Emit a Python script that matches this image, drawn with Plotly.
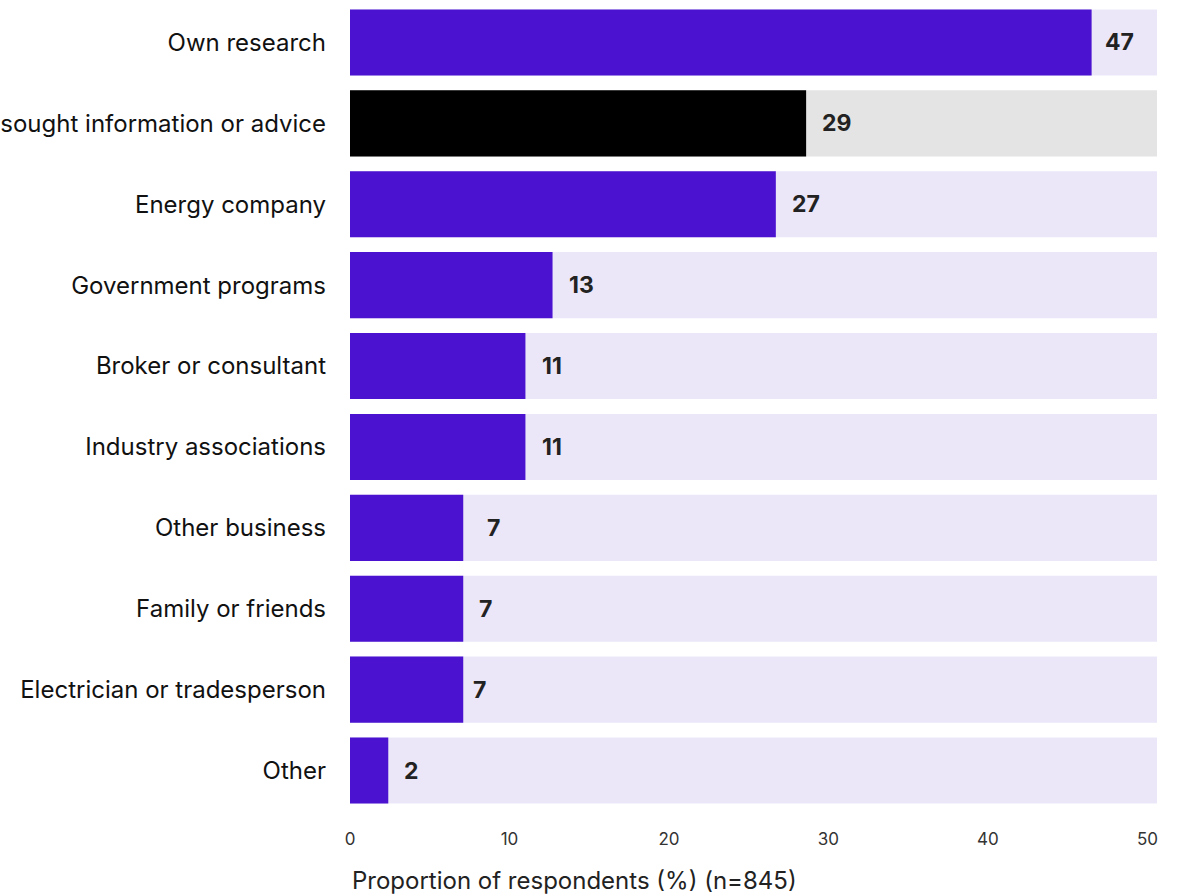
import plotly.graph_objects as go

categories = [
    "Own research",
    "sought information or advice",
    "Energy company",
    "Government programs",
    "Broker or consultant",
    "Industry associations",
    "Other business",
    "Family or friends",
    "Electrician or tradesperson",
    "Other",
]
values = [46.5, 28.6, 26.7, 12.7, 11.0, 11.0, 7.1, 7.1, 7.1, 2.4]
labels = ["47", "29", "27", "13", "11", "11", "7", "7", "7", "2"]
tick_vals = [0, 10, 20, 30, 40, 50]
x_title = "Proportion of respondents (%) (n=845)"

X_MAX = 50.6
PURPLE = "#4B13D0"
LAVENDER = "#EBE7F8"
GREY = "#E4E4E4"
FONT = "Inter, Roboto, sans-serif"

fg_colors = [PURPLE] * len(categories)
bg_colors = [LAVENDER] * len(categories)
fg_colors[1] = "#000000"
bg_colors[1] = GREY

label_shift = [11, 14, 14, 14, 15, 15, 22, 14, 8, 14]

fig = go.Figure()
fig.add_trace(go.Bar(
    y=categories, x=[X_MAX] * len(categories), orientation="h",
    marker=dict(color=bg_colors, line=dict(width=0)),
    hoverinfo="skip", showlegend=False,
))
fig.add_trace(go.Bar(
    y=categories, x=values, orientation="h",
    marker=dict(color=fg_colors, line=dict(width=0)),
    showlegend=False,
))

for cat, v, lab, sh in zip(categories, values, labels, label_shift):
    fig.add_annotation(
        x=v, y=cat, text=f"<b>{lab}</b>", showarrow=False,
        xanchor="left", yanchor="middle", xshift=sh,
        font=dict(family=FONT, size=23, color="#222222"),
    )

fig.add_annotation(
    x=0, y=0, xref="paper", yref="paper", text=x_title, showarrow=False,
    xanchor="left", yanchor="middle", xshift=0, yshift=-69,
    font=dict(family=FONT, size=24, color="#222222"),
)

fig.update_layout(
    width=1178, height=896,
    margin=dict(l=350, r=21, t=2, b=85, autoexpand=False),
    barmode="overlay", bargap=0.183,
    plot_bgcolor="white", paper_bgcolor="white",
    font=dict(family=FONT, color="#111111"),
    xaxis=dict(
        range=[0, X_MAX], tickvals=tick_vals, showgrid=False, zeroline=False,
        showline=False, ticks="", ticklabelstandoff=16,
        tickfont=dict(size=17, color="#333333"),
        automargin=False, fixedrange=True,
    ),
    yaxis=dict(
        autorange="reversed", showgrid=False, zeroline=False, showline=False,
        ticks="", ticklabelstandoff=23, tickfont=dict(size=24, color="#111111"),
        automargin=False, fixedrange=True,
    ),
)

fig.write_html("out.html")
